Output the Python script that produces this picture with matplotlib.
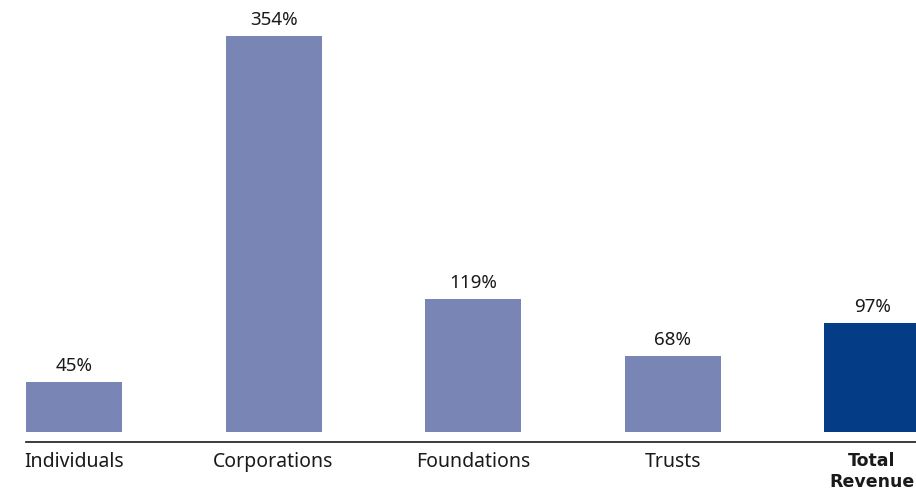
import matplotlib
matplotlib.use("Agg")
import matplotlib.pyplot as plt

categories = ["Individuals", "Corporations", "Foundations", "Trusts", "Total\nRevenue"]
values = [45, 354, 119, 68, 97]
labels = ["45%", "354%", "119%", "68%", "97%"]
colors = ["#7985B5", "#7985B5", "#7985B5", "#7985B5", "#043D86"]

plt.rcParams['font.family'] = ['Noto Sans', 'DejaVu Sans']

fig = plt.figure(figsize=(9.16, 4.96), dpi=100)
ax = fig.add_axes([26/916, (496-442)/496, 890/916, 442/496])

x = list(range(len(categories)))
bars = ax.bar(x, values, width=0.481, color=colors)
for b, lab in zip(bars, labels):
    ax.annotate(lab, (b.get_x() + b.get_width()/2, b.get_height()),
                xytext=(0, 5), textcoords="offset points",
                ha="center", va="bottom", fontsize=13.5, color="#1a1a1a")

ax.set_xlim(-0.2406, 4.22)
ax.set_ylim(-8.94, 386)
ax.set_xticks(x)
ax.set_xticklabels(categories, fontsize=14, color="#1a1a1a")
last = ax.get_xticklabels()[-1]
last.set_fontfamily(['DejaVu Sans'])
last.set_fontweight("bold")
last.set_fontsize(12.5)
last.set_linespacing(1.25)
ax.tick_params(axis="x", length=0, pad=7)
ax.set_yticks([])
for s in ["left", "right", "top"]:
    ax.spines[s].set_visible(False)
ax.spines["bottom"].set_color("#1a1a1a")
ax.spines["bottom"].set_linewidth(1.2)

fig.savefig("out.png", dpi=100)
